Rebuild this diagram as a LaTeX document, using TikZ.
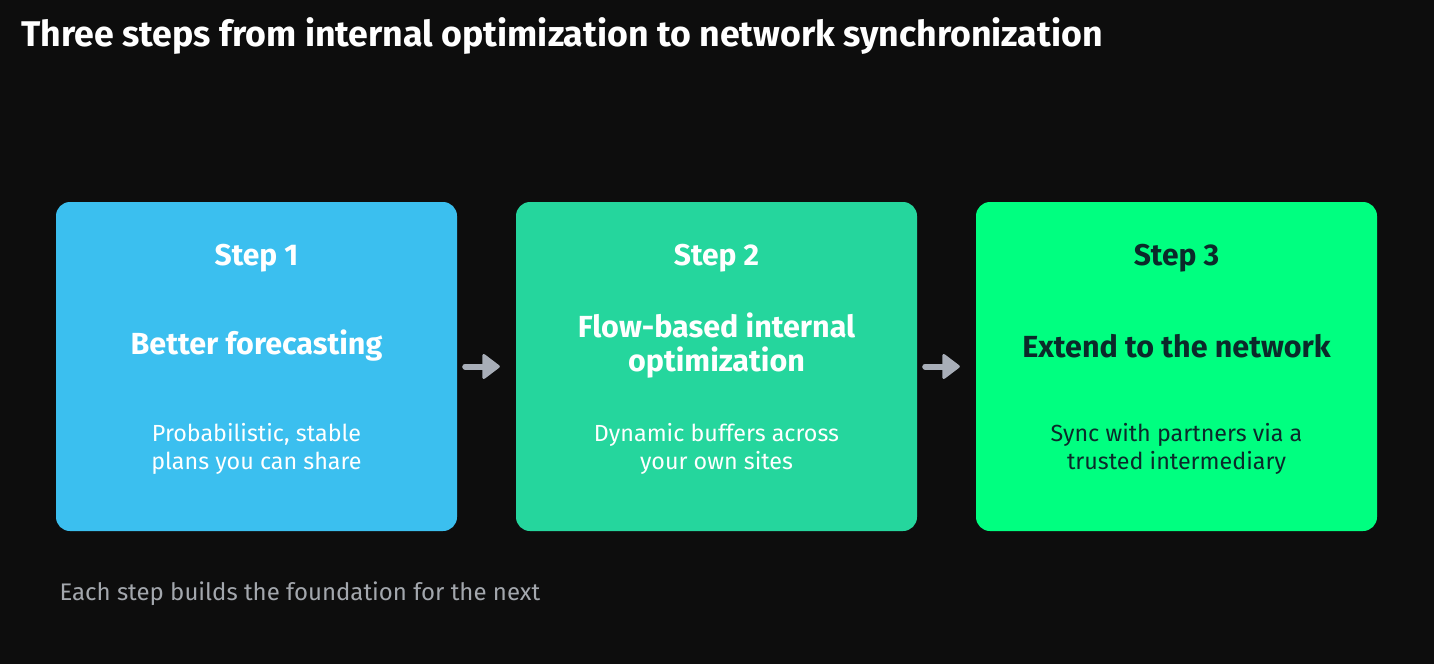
\documentclass[tikz,border=0pt]{standalone}
\usepackage{fontspec}
\setmainfont{Fira Sans}
\usetikzlibrary{calc}
\definecolor{bg}{HTML}{0D0D0D}
\definecolor{cone}{HTML}{3BBFEF}
\definecolor{ctwo}{HTML}{25D69D}
\definecolor{cthree}{HTML}{00FF80}
\definecolor{arrowgray}{HTML}{A8AEB8}
\definecolor{footgray}{HTML}{A3A7AD}
\definecolor{darktext}{HTML}{0B2A2A}
\tikzset{
  stepbox/.style={rounded corners=14pt, minimum width=401pt, minimum height=329pt, inner sep=0pt},
  steplabel/.style={font=\fontsize{30}{34}\selectfont\bfseries, anchor=center},
  headlabel/.style={font=\fontsize{30.5}{34}\selectfont\bfseries, align=center, anchor=center},
  bodylabel/.style={font=\fontsize{23.3}{28}\selectfont, align=center, anchor=center},
  flowshaft/.style={draw=arrowgray, line width=6pt, line cap=round, shorten <=8pt, shorten >=26pt},
  flowhead/.style={fill=arrowgray, draw=arrowgray, line width=3pt, line join=round}
}
\begin{document}
\begin{tikzpicture}[x=1pt,y=-1pt]
\useasboundingbox[fill=bg] (0,0) rectangle (1434,664);
\node[anchor=west, text=white, font=\fontsize{35.7}{40}\selectfont\bfseries] (title) at (18,36) {Three steps from internal optimization to network synchronization};
\node[stepbox, fill=cone] (b1) at (256.5,366.5) {};
\node[stepbox, fill=ctwo] (b2) at (716.5,366.5) {};
\node[stepbox, fill=cthree] (b3) at (1176.5,366.5) {};
\node[steplabel, text=white] (s1) at (256.5,258) {Step 1};
\node[steplabel, text=white] (s2) at (716.5,258) {Step 2};
\node[steplabel, text=darktext] (s3) at (1176.5,258) {Step 3};
\node[headlabel, text=white] (h1) at (256.5,346) {Better forecasting};
\node[headlabel, text=white] (h2) at (716.5,346) {Flow-based internal\\optimization};
\node[headlabel, text=darktext] (h3) at (1176.5,346) {Extend to the network};
\node[bodylabel, text=white] (t1) at (256.5,449) {Probabilistic, stable\\plans you can share};
\node[bodylabel, text=white] (t2) at (716.5,449) {Dynamic buffers across\\your own sites};
\node[bodylabel, text=darktext] (t3) at (1176.5,449) {Sync with partners via a\\trusted intermediary};
\draw[flowshaft] (b1.east) -- (b2.west);
\draw[flowhead] ($(b2.west)+(-17.5,0)$) -- ($(b2.west)+(-32,-11)$) -- ($(b2.west)+(-32,11)$) -- cycle;
\draw[flowshaft] (b2.east) -- (b3.west);
\draw[flowhead] ($(b3.west)+(-17.5,0)$) -- ($(b3.west)+(-32,-11)$) -- ($(b3.west)+(-32,11)$) -- cycle;
\node[anchor=west, text=footgray, font=\fontsize{24}{28}\selectfont] (foot) at (56,594) {Each step builds the foundation for the next};
\end{tikzpicture}
\end{document}
